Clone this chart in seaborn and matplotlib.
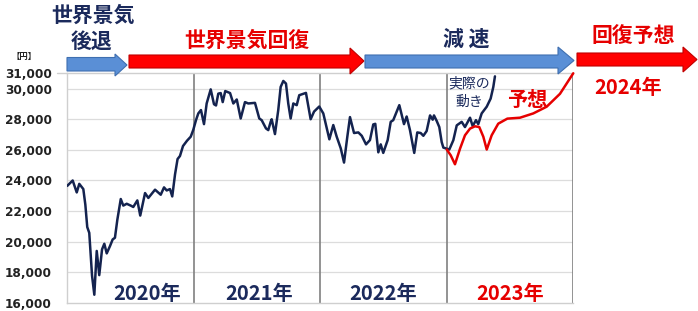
import matplotlib
matplotlib.use("Agg")
import matplotlib.pyplot as plt
import seaborn as sns
import pandas as pd
from matplotlib.patches import Polygon

# ---------------- data (years as decimal offsets from 2020) ----------------
actual_t = [0.002, 0.045, 0.077, 0.097, 0.129, 0.145, 0.160, 0.176, 0.198, 0.216,
            0.235, 0.255, 0.277, 0.295, 0.314, 0.340, 0.361, 0.379, 0.398, 0.425,
            0.445, 0.472, 0.504, 0.524, 0.556, 0.579, 0.617, 0.643, 0.696, 0.741,
            0.767, 0.788, 0.814, 0.832, 0.854, 0.874, 0.893, 0.917, 0.949, 0.978,
            0.998, 1.020, 1.038, 1.059, 1.083, 1.104, 1.136, 1.162, 1.178, 1.196,
            1.215, 1.231, 1.251, 1.289, 1.315, 1.342, 1.373, 1.407, 1.433, 1.486,
            1.520, 1.539, 1.573, 1.591, 1.610, 1.618, 1.644, 1.670, 1.689, 1.710,
            1.731, 1.749, 1.768, 1.789, 1.816, 1.836, 1.889, 1.926, 1.953, 1.994,
            2.026, 2.074, 2.105, 2.132, 2.164, 2.190, 2.216, 2.237, 2.269, 2.303,
            2.330, 2.364, 2.395, 2.421, 2.437, 2.461, 2.480, 2.500, 2.535, 2.559,
            2.579, 2.627, 2.664, 2.685, 2.711, 2.745, 2.769, 2.796, 2.817, 2.843,
            2.870, 2.891, 2.901, 2.923, 2.943, 2.962, 2.975, 3.022, 3.054, 3.081,
            3.120, 3.146, 3.186, 3.207, 3.233, 3.251, 3.278, 3.318, 3.349, 3.370,
            3.383]
actual_v = [23650, 24000, 23220, 23780, 23440, 22420, 20960, 20580, 17780, 16540,
            19400, 17820, 19500, 19870, 19240, 19720, 20150, 20260, 21440, 22790,
            22360, 22480, 22360, 22270, 22700, 21710, 23180, 22860, 23400, 23070,
            23550, 23350, 23440, 22960, 24400, 25400, 25600, 26250, 26600, 26860,
            27300, 27950, 28380, 28600, 27680, 29030, 29950, 28980, 28900, 29670,
            29710, 29120, 29840, 29710, 29030, 29290, 28050, 29120, 29030, 29070,
            28050, 27940, 27400, 27290, 27830, 28000, 27030, 28600, 30110, 30500,
            30330, 29030, 28050, 29030, 28920, 29570, 29720, 28000, 28500, 28830,
            28380, 26690, 27620, 26860, 26100, 25170, 26860, 28140, 27100, 27140,
            26920, 26360, 26640, 27660, 27700, 25840, 26360, 25800, 26640, 27830,
            27940, 28920, 27680, 28180, 27300, 25800, 27140, 27100, 26920, 27230,
            28250, 27970, 28250, 27880, 27490, 26510, 26150, 26020, 26630, 27600,
            27830, 27490, 28100, 27550, 27940, 27680, 28380, 28820, 29350, 30110,
            30800]

forecast_t = [3.002, 3.033, 3.067, 3.107, 3.146, 3.186, 3.225, 3.259, 3.291, 3.318,
              3.357, 3.409, 3.481, 3.581, 3.686, 3.792, 3.897, 4.002]
forecast_v = [26020, 25650, 25060, 26080, 26950, 27390, 27540, 27490, 26860, 26020,
              26950, 27710, 28040, 28100, 28380, 28820, 29660, 31000]

base_year = 2020
year_bounds = [2021, 2022, 2023, 2024]
year_labels = ["2020年", "2021年", "2022年", "2023年"]
ytick_vals = [16000, 18000, 20000, 22000, 24000, 26000, 28000, 30000, 31000]
ytick_labels = ["16,000", "18,000", "20,000", "22,000", "24,000", "26,000",
                "28,000", "30,000", "31,000"]

NAVY = "#1b2a5c"
RED = "#e60000"
LINE_NAVY = "#14234f"
BLUE_FILL = "#5a8fd6"
BLUE_EDGE = "#3f6fb0"

sns.set_style("white")
plt.rcParams["font.family"] = ["Noto Sans CJK JP", "DejaVu Sans"]

W, H = 698, 311
fig = plt.figure(figsize=(W / 100, H / 100), dpi=100)

ax = fig.add_axes([67 / W, 1 - 303 / H, (573 - 67) / W, (303 - 73.3) / H])

df_a = pd.DataFrame({"t": [base_year + t for t in actual_t], "v": actual_v})
df_f = pd.DataFrame({"t": [base_year + t for t in forecast_t], "v": forecast_v})
sns.lineplot(data=df_a, x="t", y="v", ax=ax, color=LINE_NAVY, linewidth=1.8,
             estimator=None, sort=False, zorder=4)
sns.lineplot(data=df_f, x="t", y="v", ax=ax, color=RED, linewidth=1.8,
             estimator=None, sort=False, zorder=5, clip_on=False)

ax.set_xlim(2020, 2024)
ax.set_ylim(16000, 31000)
ax.set_xticks([])
ax.set_yticks(ytick_vals)
ax.set_yticklabels(ytick_labels)
ax.tick_params(axis="y", length=0, pad=11, labelsize=8.7, labelcolor="#222222")
for lab in ax.get_yticklabels():
    lab.set_fontfamily("DejaVu Sans")
    lab.set_fontweight("bold")
ax.set_xlabel("")
ax.set_ylabel("")

for v in ytick_vals[1:-1]:
    ax.axhline(v, color="#dcdcdc", linewidth=0.9, zorder=1)

for b in year_bounds:
    ax.axvline(b, color="#808080", linewidth=1.2, zorder=2)

for name in ["left", "bottom", "top"]:
    ax.spines[name].set_color("#cfcfcf")
    ax.spines[name].set_linewidth(1.0)
ax.spines["right"].set_visible(False)

# year labels inside plot
label_x = [147, 259, 383, 510]
for lbl, px in zip(year_labels, label_x):
    col = RED if lbl == "2023年" else NAVY
    fig.text(px / W, 1 - 293 / H, lbl, ha="center", va="center",
             fontsize=14.5, fontweight="bold", color=col)

# overlay in pixel coordinates
ov = fig.add_axes([0, 0, 1, 1], facecolor="none")
ov.set_xlim(0, W)
ov.set_ylim(H, 0)
ov.axis("off")

# tick line for 31,000
ov.plot([57, 67], [73.3, 73.3], color="#cfcfcf", linewidth=1.0)


def arrow(x0, x1, xh, by0, by1, hy0, hy1, fc, ec):
    ym = (hy0 + hy1) / 2
    pts = [(x0, by0), (xh, by0), (xh, hy0), (x1, ym), (xh, hy1), (xh, by1), (x0, by1)]
    ov.add_patch(Polygon(pts, closed=True, facecolor=fc, edgecolor=ec, linewidth=0.8))


arrow(67, 127, 115, 57.5, 71, 54, 76, BLUE_FILL, BLUE_EDGE)
arrow(129, 364, 350, 55, 68, 48, 74, "#ff0000", "#c00000")
arrow(365, 574, 558, 55, 68, 47, 74, BLUE_FILL, BLUE_EDGE)
arrow(577, 697, 683, 53, 66, 47, 72, "#ff0000", "#c00000")

# top texts
ov.text(93, 15, "世界景気", ha="center", va="center", fontsize=15,
        fontweight="bold", color=NAVY)
ov.text(92, 41, "後退", ha="center", va="center", fontsize=15,
        fontweight="bold", color=NAVY)
ov.text(247, 40, "世界景気回復", ha="center", va="center", fontsize=15,
        fontweight="bold", color=RED)
ov.text(466, 39, "減 速", ha="center", va="center", fontsize=15,
        fontweight="bold", color=NAVY)
ov.text(633, 35, "回復予想", ha="center", va="center", fontsize=15,
        fontweight="bold", color=RED)
ov.text(628, 88, "2024年", ha="center", va="center", fontsize=14.5,
        fontweight="bold", color=RED)
ov.text(24, 56, "【円】", ha="center", va="center", fontsize=6,
        fontweight="bold", color="#222222")
ov.text(469, 83, "実際の", ha="center", va="center", fontsize=10,
        color=NAVY)
ov.text(469, 102, "動き", ha="center", va="center", fontsize=10,
        color=NAVY)
ov.text(527, 99, "予想", ha="center", va="center", fontsize=14.5,
        fontweight="bold", color=RED)

fig.savefig("out.png", dpi=100)
